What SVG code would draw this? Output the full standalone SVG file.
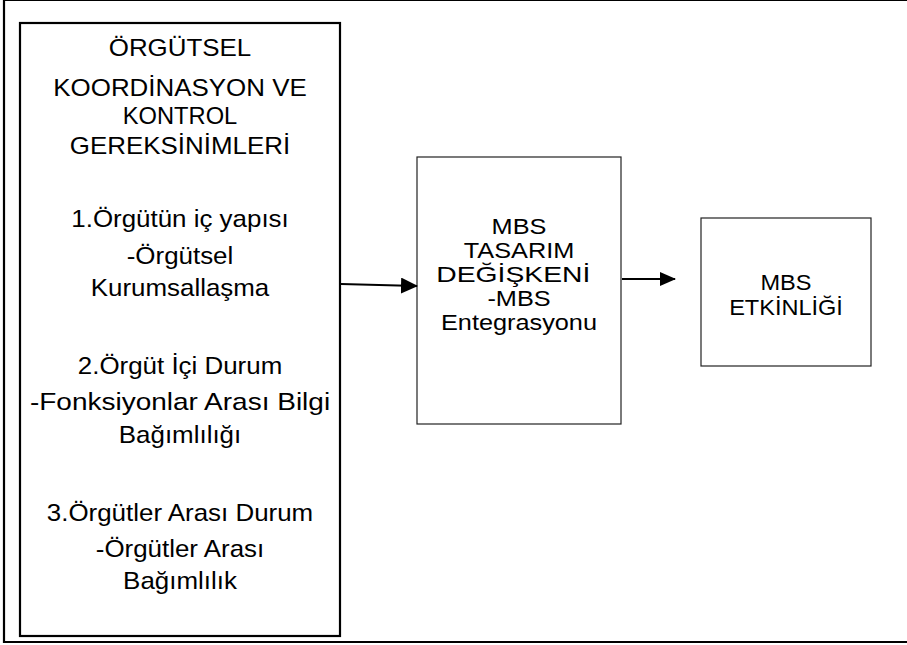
<svg xmlns="http://www.w3.org/2000/svg" width="907" height="645" viewBox="0 0 907 645">
<style>
text{font-family:"Liberation Sans",Arial,sans-serif;fill:#000;text-anchor:middle}
.l{font-size:24px}
.m{font-size:22px}
.r{font-size:22px}
.thick{fill:none;stroke:#000;stroke-width:2.2}
.thin{fill:#fff;stroke:#222;stroke-width:1.2}
.conn{stroke:#000;stroke-width:2;fill:none}
</style>
<defs>
<marker id="ah" markerWidth="17" markerHeight="16" refX="16" refY="8" orient="auto" markerUnits="userSpaceOnUse" viewBox="0 0 17 16">
<path d="M0,0 L17,8 L0,16 z" fill="#000"/>
</marker>
<marker id="ah2" markerWidth="16" markerHeight="14" refX="15" refY="7" orient="auto" markerUnits="userSpaceOnUse" viewBox="0 0 16 14">
<path d="M0,0 L16,7 L0,14 z" fill="#000"/>
</marker>
</defs>
<rect x="0" y="0" width="907" height="645" fill="#fff"/>
<path class="thick" d="M4,0 H907 M4,0 V642 H907"/>
<g id="node-left">
<rect class="thick" x="20" y="23" width="320" height="613"/>
<g transform="translate(180 0) scale(1.08 1)">
<text class="l" x="0" y="56">ÖRGÜTSEL</text>
<text class="l" x="0" y="96">KOORDİNASYON VE</text>
<text class="l" x="0" y="124" textLength="106" lengthAdjust="spacingAndGlyphs">KONTROL</text>
<text class="l" x="0" y="154">GEREKSİNİMLERİ</text>
<text class="l" x="0" y="227">1.Örgütün iç yapısı</text>
<text class="l" x="0" y="264">-Örgütsel</text>
<text class="l" x="0" y="296">Kurumsallaşma</text>
<text class="l" x="0" y="374">2.Örgüt İçi Durum</text>
<text class="l" x="0" y="410" textLength="278" lengthAdjust="spacingAndGlyphs">-Fonksiyonlar Arası Bilgi</text>
<text class="l" x="0" y="443">Bağımlılığı</text>
<text class="l" x="0" y="521">3.Örgütler Arası Durum</text>
<text class="l" x="0" y="557">-Örgütler Arası</text>
<text class="l" x="0" y="589">Bağımlılık</text>
</g>
</g>
<g id="node-middle">
<rect class="thin" x="417" y="157" width="204" height="267"/>
<g transform="translate(519 0) scale(1.15 1)">
<text class="m" x="0" y="234">MBS</text>
<text class="m" x="0" y="258">TASARIM</text>
<text class="m" x="-5" y="282" textLength="134" lengthAdjust="spacingAndGlyphs">DEĞİŞKENİ</text>
<text class="m" x="0" y="306">-MBS</text>
<text class="m" x="0" y="330">Entegrasyonu</text>
</g>
</g>
<g id="node-right">
<rect class="thin" x="701" y="218" width="170" height="148"/>
<g transform="translate(786 0) scale(1.07 1)">
<text class="r" x="0" y="290">MBS</text>
<text class="r" x="0" y="315">ETKİNLİĞİ</text>
</g>
</g>
<g id="connectors">
<path class="conn" d="M341,284 L417,286" marker-end="url(#ah)"/>
<path class="conn" d="M622,279 L675,279" marker-end="url(#ah2)"/>
</g>
</svg>
